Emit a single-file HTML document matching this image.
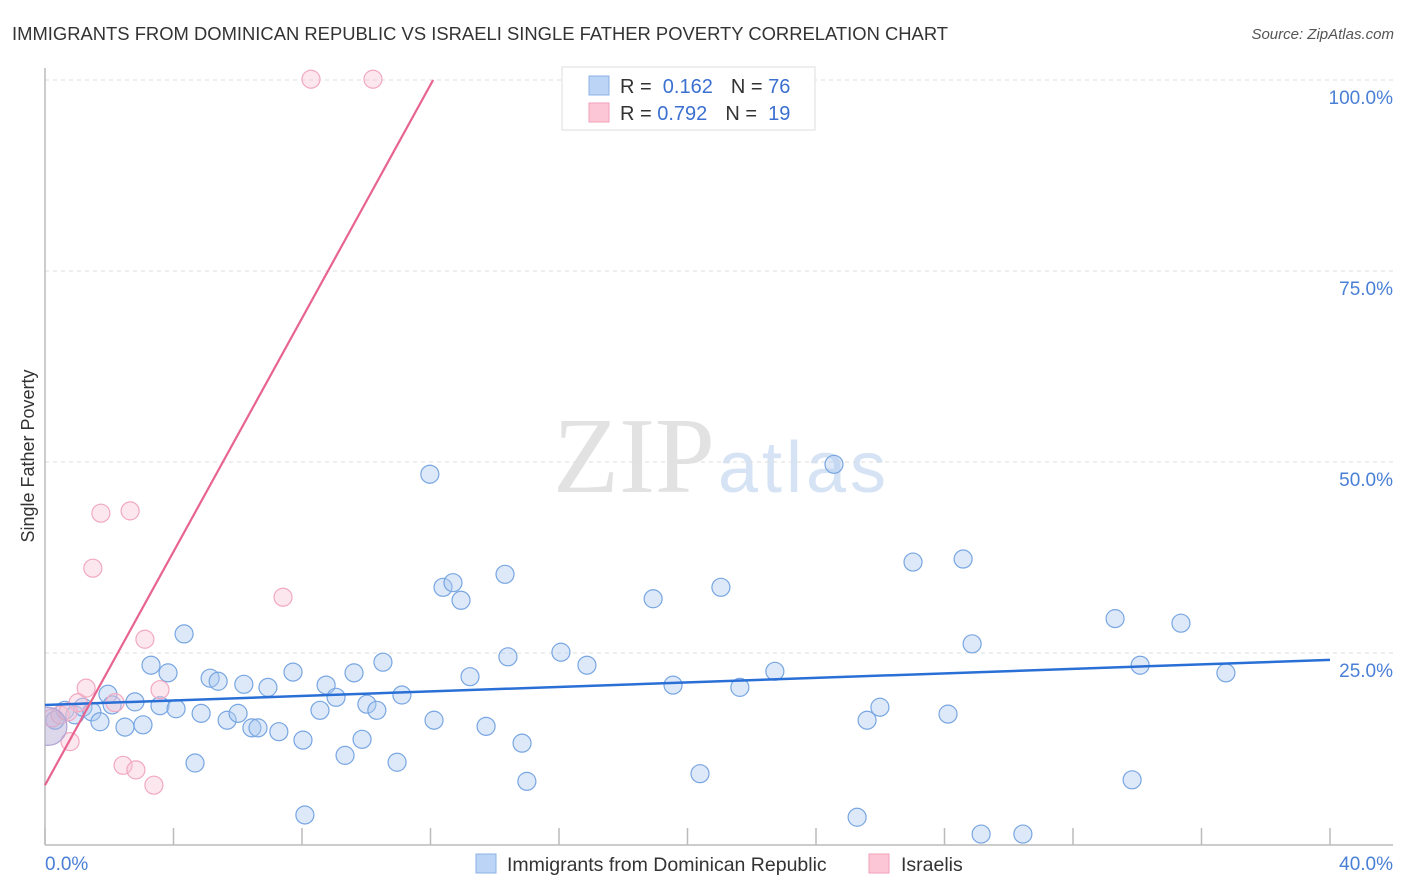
<!DOCTYPE html>
<html><head><meta charset="utf-8"><style>
body{margin:0;background:#fff;font-family:"Liberation Sans",sans-serif;}
svg{display:block}
</style></head><body>
<svg width="1406" height="892" viewBox="0 0 1406 892">
<defs><clipPath id="plotclip"><rect x="45" y="60" width="1360" height="785"/></clipPath></defs>
<text x="12" y="40" font-size="18.4" fill="#333" textLength="936">IMMIGRANTS FROM DOMINICAN REPUBLIC VS ISRAELI SINGLE FATHER POVERTY CORRELATION CHART</text>
<text x="1394" y="39" font-size="15" fill="#555" font-style="italic" text-anchor="end">Source: ZipAtlas.com</text>
<text x="553" y="492" font-size="108" fill="#e2e2e2" font-family="Liberation Serif,serif" textLength="162">ZIP</text>
<text x="718" y="492" font-size="72" fill="#d5e3f5" textLength="168">atlas</text>
<g id="grid"></g>
<g id="axes"></g>
<g id="pts" clip-path="url(#plotclip)"></g>
<g id="lines"></g>
<text transform="translate(34,456) rotate(-90)" font-size="18" fill="#333" text-anchor="middle">Single Father Poverty</text>
<g>
<rect x="562" y="67" width="253" height="63" fill="#fff" stroke="#ddd"/>
<rect x="589" y="76" width="20" height="19" fill="#bcd4f5" stroke="#8db0e6"/>
<rect x="589" y="103" width="20" height="19" fill="#fcc6d6" stroke="#f2a0ba"/>
<text x="620" y="93" font-size="20" fill="#333">R = <tspan fill="#3b70d0">&#160;0.162</tspan><tspan dx="18">N = </tspan><tspan fill="#3b70d0">76</tspan></text>
<text x="620" y="120" font-size="20" fill="#333">R = <tspan fill="#3b70d0">0.792</tspan><tspan dx="18">N = </tspan><tspan fill="#3b70d0">&#160;19</tspan></text>
</g>
<g>
<rect x="476" y="854" width="20" height="19" fill="#bcd4f5" stroke="#8db0e6"/>
<text x="507" y="871" font-size="19.5" fill="#333">Immigrants from Dominican Republic</text>
<rect x="869" y="854" width="20" height="19" fill="#fcc6d6" stroke="#f2a0ba"/>
<text x="901" y="871" font-size="19.5" fill="#333">Israelis</text>
</g>
</svg>
<script>
const yTicks=[25,50,75,100];
const yTickLabels=["25.0%","50.0%","75.0%","100.0%"];
const xTicks=[0,4,8,12,16,20,24,28,32,36,40];
const xEndLabels=["0.0%","40.0%"];
const blueX=[0.31,0.62,0.93,1.18,1.46,1.71,1.96,2.09,2.49,2.80,3.05,3.30,3.58,3.83,4.08,4.33,4.67,4.86,5.14,5.39,5.67,6.01,6.19,6.44,6.63,6.94,7.28,7.72,8.03,8.09,8.56,8.75,9.06,9.34,9.62,9.87,10.02,10.33,10.52,10.96,11.11,11.98,12.11,12.39,12.70,12.95,13.23,13.73,14.32,14.41,14.85,15.00,16.06,16.87,18.93,19.55,20.39,21.04,21.63,22.72,24.56,25.28,25.59,25.99,27.02,28.11,28.58,28.86,29.14,30.44,33.31,33.84,34.09,35.36,36.76];
const blueY=[16.2,17.5,16.9,17.9,17.3,16.0,19.6,18.2,15.3,18.6,15.6,23.4,18.1,22.4,17.7,27.5,10.6,17.1,21.7,21.3,16.2,17.1,20.9,15.2,15.2,20.5,14.7,22.5,13.6,3.8,17.5,20.8,19.2,11.6,22.4,13.7,18.3,17.5,23.8,10.7,19.5,48.4,16.2,33.6,34.2,31.9,21.9,15.4,35.3,24.5,13.2,8.2,25.1,23.4,32.1,20.8,9.2,33.6,20.5,22.6,49.7,3.5,16.2,17.9,36.9,17.0,37.3,26.2,1.3,1.3,29.5,8.4,23.4,28.9,22.4];
const pinkX=[0.22,0.47,0.78,1.03,1.28,1.49,1.74,2.18,2.43,2.65,2.83,3.11,3.39,3.58,7.41,8.28,10.21,0.72];
const pinkY=[16.5,16.9,13.4,18.5,20.4,36.1,43.3,18.5,10.3,43.6,9.7,26.8,7.7,20.2,32.3,100.1,100.1,17.3];
const bigX=[0.09];
const bigY=[15.4];
const blueTrend=[18.2,0.1475];
const pinkTrend=[7.7,7.64];
const NS="http://www.w3.org/2000/svg";
const X=v=>45+v*32.125, Y=v=>844-v*7.64;
function mk(p,t,a){const e=document.createElementNS(NS,t);for(const k in a)e.setAttribute(k,a[k]);p.appendChild(e);return e;}
const g=document.getElementById('grid'),ax=document.getElementById('axes'),pts=document.getElementById('pts'),ln=document.getElementById('lines');
yTicks.forEach((t,i)=>{
 const l=mk(g,'line',{x1:45,x2:1393,y1:Y(t),y2:Y(t),stroke:'#ddd','stroke-dasharray':'4,4'});
 
 
 const tx=mk(g,'text',{x:1393,y:Y(t)+24,'font-size':19,fill:'#4a7fd6','text-anchor':'end'});
 tx.textContent=yTickLabels[i];
 
 
});
mk(ax,'line',{x1:45,x2:45,y1:68,y2:845,stroke:'#bbb','stroke-width':1.5});
mk(ax,'line',{x1:45,x2:1393,y1:845,y2:845,stroke:'#bbb','stroke-width':1.5});
xTicks.forEach(t=>{const l=mk(ax,'line',{x1:X(t),x2:X(t),y1:828,y2:845,stroke:'#bbb','stroke-width':1.5});
 
 });
const t0=mk(ax,'text',{x:45,y:870,'font-size':19,fill:'#4a7fd6'});t0.textContent=xEndLabels[0];


const t1=mk(ax,'text',{x:1393,y:870,'font-size':19,fill:'#4a7fd6','text-anchor':'end'});t1.textContent=xEndLabels[1];


blueX.forEach((v,i)=>{const c=mk(pts,'circle',{cx:X(v),cy:Y(blueY[i]),r:9,fill:'rgba(170,200,240,0.4)',stroke:'#78a6e2','stroke-width':1.2});
 
 });
pinkX.forEach((v,i)=>{const c=mk(pts,'circle',{cx:X(v),cy:Y(pinkY[i]),r:9,fill:'rgba(250,195,212,0.4)',stroke:'#f2a8c0','stroke-width':1.2});
 
 });
bigX.forEach((v,i)=>{const c=mk(pts,'circle',{cx:X(v),cy:Y(bigY[i]),r:19,fill:'rgba(185,175,215,0.5)',stroke:'#b0a4d4','stroke-width':1.2});
 
 });
const bl=mk(ln,'line',{x1:X(0),y1:Y(blueTrend[0]),x2:X(40),y2:Y(blueTrend[0]+40*blueTrend[1]),stroke:'#2a6fd6','stroke-width':2.5});


const xe=(100-pinkTrend[0])/pinkTrend[1];
const pl=mk(ln,'line',{x1:X(0),y1:Y(pinkTrend[0]),x2:X(xe),y2:Y(100),stroke:'#e8648e','stroke-width':2.2});


</script>
</body></html>
